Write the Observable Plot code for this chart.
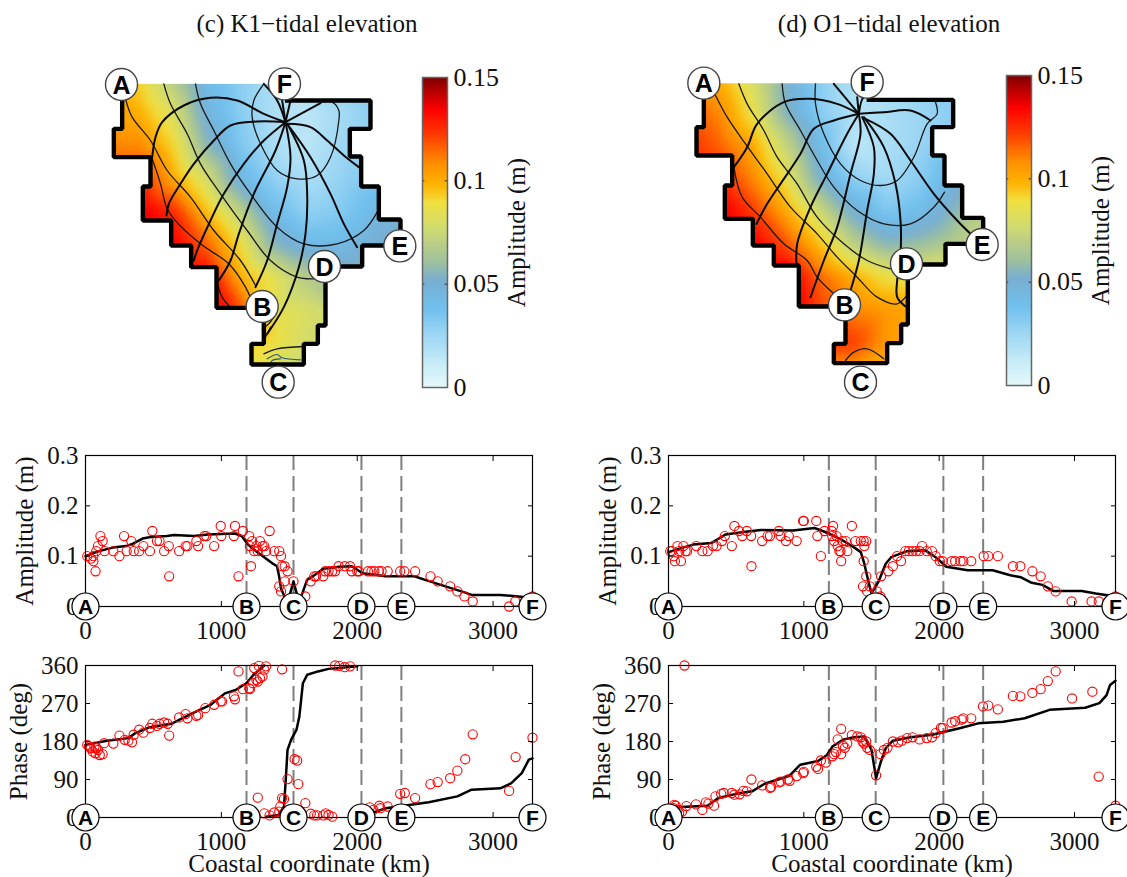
<!DOCTYPE html>
<html><head><meta charset="utf-8">
<script src="https://cdn.jsdelivr.net/npm/d3@7"></script>
<script src="https://cdn.jsdelivr.net/npm/@observablehq/plot@0.6"></script>
<style>
html,body{margin:0;padding:0;background:#fff;overflow:hidden}
#page{position:relative;width:1127px;height:877px;overflow:hidden}
#page svg{position:absolute;overflow:visible;background:transparent}
.ttl{position:absolute;top:10px;font:25px "Liberation Serif",serif;color:#111;transform:translateX(-50%);white-space:nowrap}
</style></head><body><div id="page"></div>
<script>
// colour map
const colorDomain=[0,.011,.024,.038,.0515,.06,.071,.077,.089,.0985,.108,.121,.134,.142,.15];
const colorRange=["#e4f8fa","#c8ecf8","#a0d8f4","#70c0ee","#78aed0","#9cc0a0","#c0d080","#d0dc70","#f0e040","#ffb000","#ff9000","#ff4000","#ff0000","#c00000","#7a0000"];
const colorTicks=[0,.05,.1,.15];

// amplitude samples on the map grid
const gridX=[50,150,250,350,450,550,650,750,850,950];
const ampC={
 50:[.1,.09,.066,.04,.03,.02,.03,.03,.03,.04],
 150:[.105,.098,.08,.045,.03,.02,.015,.022,.03,.04],
 250:[.11,.108,.09,.055,.033,.02,.015,.024,.03,.04],
 350:[.12,.125,.1,.078,.043,.028,.02,.027,.034,.04],
 450:[.14,.138,.125,.095,.07,.04,.028,.032,.042,.05],
 550:[.14,.14,.135,.115,.088,.055,.042,.042,.05,.05],
 650:[.14,.14,.14,.135,.1,.085,.068,.055,.052,.05],
 750:[.14,.14,.14,.14,.12,.085,.08,.075,.06,.05],
 850:[.12,.12,.12,.12,.09,.088,.078,.075,.07,.05],
 950:[.1,.1,.1,.1,.09,.08,.07,.07,.07,.05]};
const ampD={
 50:[.12,.098,.078,.05,.03,.02,.025,.03,.03,.04],
 150:[.118,.108,.085,.052,.03,.018,.02,.025,.03,.04],
 250:[.125,.115,.1,.072,.04,.015,.02,.026,.032,.04],
 350:[.13,.125,.108,.085,.05,.028,.022,.03,.045,.06],
 450:[.14,.138,.122,.1,.075,.048,.033,.04,.055,.07],
 550:[.14,.14,.135,.118,.095,.07,.055,.06,.068,.07],
 650:[.145,.145,.145,.14,.115,.1,.088,.085,.075,.07],
 750:[.145,.145,.145,.145,.12,.11,.105,.1,.09,.07],
 850:[.13,.13,.13,.13,.125,.122,.105,.1,.09,.07],
 950:[.1,.1,.1,.1,.1,.1,.1,.1,.09,.07]};

// coastlines
const coastC=[[95,70],[95,205],[70,205],[70,290],[180,290],[180,378],[157,378],[157,480],[242,480],[242,555],[302,555],[302,620],[378,620],[378,742],[520,742],[520,850],[483,850],[483,912],[640,912],[640,850],[682,850],[682,795],[705,795],[705,618],[815,618],[815,555],[930,555],[930,477],[865,477],[865,378],[812,378],[812,288],[778,288],[778,205],[840,205],[840,120],[590,120]];
const coastD=[[100,68],[100,200],[78,200],[78,285],[185,285],[185,375],[163,375],[163,475],[247,475],[247,555],[310,555],[310,615],[385,615],[385,738],[525,738],[525,850],[490,850],[490,908],[650,908],[650,848],[692,848],[692,792],[712,792],[712,612],[825,612],[825,550],[938,550],[938,472],[875,472],[875,375],[822,375],[822,285],[785,285],[785,200],[848,200],[848,118],[595,118]];
const topC=[[590,70]], topD=[[595,68]];

// contour lines on the maps
const thinC=[
 [[105,115],[125,170],[180,240],[230,330],[300,410],[370,510],[450,600],[495,675]],
 [[185,295],[210,370],[228,440],[250,475],[330,550],[415,610],[465,680],[480,712]],
 [[380,665],[395,710],[415,735]],
 [[220,70],[240,130],[290,220],[330,310],[390,400],[470,510],[540,600],[620,650],[670,655]],
 [[315,70],[330,130],[370,210],[420,310],[480,400],[560,500],[640,550],[740,550],[820,510],[860,455]],
 [[520,70],[490,120],[485,170],[510,250],[560,330],[620,355],[680,345],[720,290],[745,180],[745,150],[725,125],[690,125]],
 [[520,880],[560,865],[640,858]],
 [[515,805],[535,790],[550,770]],
 [[525,830],[540,800]]];
const blueC=[[[530,895],[560,882],[575,892],[630,898]],[[535,918],[545,900],[570,895]]];
const thickC=[
 [[585,185],[520,160],[440,120],[360,112],[280,135],[215,185],[195,230],[185,290]],
 [[585,185],[500,183],[420,195],[370,240],[310,310],[270,370],[235,430],[228,465]],
 [[585,185],[520,240],[460,310],[400,400],[360,480],[320,570],[310,600]],
 [[585,185],[555,270],[490,400],[445,520],[420,600],[385,660]],
 [[585,185],[600,290],[590,380],[560,490],[530,600],[495,680]],
 [[590,190],[640,300],[650,400],[645,520],[625,620],[580,740],[530,820]],
 [[590,190],[660,290],[720,400],[760,490],[800,560]],
 [[590,190],[660,200],[710,240],[760,285],[805,320]],
 [[585,185],[690,128]],[[585,185],[600,120]],[[585,185],[560,120],[520,70]],[[585,185],[575,120]]];
const thinD=[
 [[135,105],[170,170],[225,250],[290,340],[360,440],[440,520],[500,590],[560,650],[620,710],[680,730],[712,700]],
 [[190,320],[215,410],[270,470],[340,550],[410,600],[440,650],[490,700]],
 [[205,70],[230,130],[280,210],[320,290],[380,370],[440,470],[520,550],[590,600],[660,625]],
 [[335,70],[345,130],[390,210],[440,300],[490,380],[560,450],[640,490],[720,490],[790,440],[822,395]],
 [[435,70],[435,130],[460,220],[510,310],[570,360],[630,375],[680,360],[730,290],[770,190],[800,160],[795,125]],
 [[525,900],[550,875],[590,865],[640,895]]];
const thickD=[
 [[565,160],[500,130],[420,115],[340,125],[260,190],[230,260],[190,320]],
 [[565,160],[490,180],[430,205],[390,280],[330,370],[290,430],[258,490]],
 [[565,160],[530,220],[470,340],[420,440],[380,550],[378,610]],
 [[565,160],[570,220],[540,340],[500,500],[460,600],[420,710]],
 [[575,170],[610,260],[610,340],[590,450],[565,600],[540,690]],
 [[580,170],[640,260],[675,370],[690,480],[690,580],[680,660],[680,710],[705,738]],
 [[585,175],[660,220],[720,300],[790,400],[860,480],[900,520]],
 [[565,160],[640,155],[720,150],[780,180]],
 [[565,160],[580,110],[605,120]],[[565,160],[490,70]],[[565,160],[560,110]]];

// labels on the maps
const mapLabels=["A","B","C","D","E","F"];
const labelMapC=[[93,72],[515,738],[563,965],[702,618],[928,556],[582,70]];
const labelMapD=[[100,68],[522,733],[570,965],[708,610],[935,552],[590,65]];

// coastal sections
const sectionKm=[0,1185,1531,2031,2325,3290];
const dashKm=[1185,1531,2031,2325];
const kmTicks=[0,1000,2000,3000], ampTicks=[0,.1,.2,.3], phaseTicks=[0,90,180,270,360];

const ampLineC=[[0,.1],[50,.105],[100,.11],[200,.117],[300,.12],[350,.125],[420,.135],[480,.138],[600,.14],[650,.142],[800,.14],[900,.143],[1000,.144],[1100,.145],[1150,.14],[1190,.125],[1230,.115],[1280,.105],[1330,.095],[1380,.085],[1410,.08],[1425,.06],[1440,.035],[1465,.02],[1500,.02],[1531,.05],[1560,.02],[1592,.023],[1631,.053],[1684,.062],[1750,.075],[1868,.079],[1960,.08],[2039,.066],[2210,.06],[2420,.06],[2500,.053],[2592,.045],[2684,.037],[2790,.028],[2842,.023],[3053,.023],[3184,.02],[3290,.017]];
const ampPtsC=[[13,.1],[40,.095],[58,.1],[58,.09],[74,.07],[92,.12],[79,.11],[110,.14],[126,.13],[140,.11],[205,.11],[250,.1],[284,.14],[303,.11],[337,.13],[355,.11],[395,.11],[426,.12],[474,.11],[492,.15],[526,.13],[545,.13],[579,.11],[613,.12],[616,.06],[689,.11],[737,.12],[750,.12],[816,.13],[829,.12],[874,.14],[889,.14],[947,.12],[995,.16],[1000,.14],[1092,.14],[1100,.16],[1126,.06],[1158,.15],[1205,.14],[1218,.08],[1210,.12],[1226,.13],[1242,.11],[1258,.12],[1268,.11],[1284,.13],[1303,.12],[1316,.12],[1329,.11],[1355,.15],[1389,.11],[1426,.11],[1439,.1],[1447,.08],[1466,.08],[1487,.07],[1426,.04],[1439,.03],[1466,.05],[1531,.05],[1618,.02],[1658,.05],[1684,.06],[1697,.06],[1750,.06],[1763,.07],[1789,.07],[1816,.07],[1837,.07],[1863,.08],[1908,.08],[1947,.08],[1960,.07],[2000,.07],[2013,.07],[2079,.07],[2105,.07],[2126,.07],[2158,.07],[2179,.07],[2224,.07],[2316,.07],[2347,.07],[2426,.07],[2539,.06],[2592,.05],[2684,.04],[2737,.03],[2789,.02],[2850,.01],[3118,0],[3163,.01],[3290,.02]];
const phaseLineC1=[[0,172],[158,182],[316,188],[368,200],[474,214],[632,222],[711,235],[789,247],[921,267],[1026,294],[1105,302],[1184,318],[1237,338],[1316,360]];
const phaseLineC2=[[1329,2],[1421,6],[1461,26],[1474,90],[1487,160],[1513,184],[1553,208],[1574,239],[1600,318],[1632,338],[1711,346],[1789,352],[1868,354],[2000,358]];
const phaseLineC3=[[2105,10],[2210,22],[2342,28],[2526,36],[2737,50],[2842,66],[3053,69],[3132,81],[3211,105],[3263,137],[3290,140]];
const phasePtsC=[[13,172],[39,164],[53,156],[74,152],[105,148],[126,150],[92,160],[66,168],[137,176],[26,168],[79,164],[205,175],[250,194],[289,184],[316,182],[342,178],[355,196],[395,208],[426,201],[474,212],[492,222],[526,217],[545,222],[579,225],[605,222],[616,194],[689,237],[737,245],[750,235],[816,241],[829,243],[882,259],[947,267],[995,275],[1005,275],[1092,287],[1100,280],[1126,346],[1158,304],[1205,306],[1210,304],[1232,318],[1242,354],[1258,326],[1268,322],[1276,359],[1284,330],[1303,334],[1316,350],[1329,358],[1268,47],[1316,10],[1355,5],[1389,12],[1426,14],[1434,26],[1447,46],[1461,44],[1447,351],[1487,91],[1539,138],[1558,135],[1566,79],[1618,34],[1658,9],[1684,5],[1705,5],[1750,5],[1768,10],[1789,6],[1816,2],[1837,360],[1868,359],[1908,356],[1947,358],[2092,24],[2118,18],[2163,28],[2171,22],[2224,26],[2316,56],[2350,58],[2426,46],[2539,79],[2592,84],[2684,93],[2737,111],[2795,138],[2850,197],[3118,63],[3166,143],[3290,189]];

const ampLineD=[[0,.108],[105,.117],[184,.123],[316,.126],[421,.143],[553,.148],[684,.152],[921,.151],[1079,.156],[1158,.148],[1263,.135],[1368,.118],[1421,.108],[1447,.085],[1474,.053],[1500,.026],[1553,.05],[1605,.085],[1645,.098],[1763,.11],[1895,.112],[1974,.098],[2053,.079],[2211,.072],[2395,.072],[2526,.062],[2605,.058],[2684,.047],[2763,.043],[2842,.031],[3053,.031],[3158,.026],[3303,.02]];
const ampPtsD=[[13,.11],[26,.11],[39,.1],[47,.09],[66,.12],[79,.11],[92,.09],[110,.12],[126,.11],[137,.11],[205,.12],[250,.11],[289,.11],[329,.12],[355,.12],[395,.13],[416,.14],[468,.12],[487,.16],[521,.15],[545,.14],[579,.15],[611,.14],[613,.08],[692,.13],[732,.14],[750,.14],[816,.15],[829,.14],[868,.13],[889,.14],[947,.13],[995,.17],[1000,.17],[1092,.17],[1100,.14],[1126,.1],[1153,.15],[1205,.15],[1216,.16],[1210,.14],[1224,.13],[1242,.14],[1250,.12],[1263,.11],[1271,.11],[1276,.09],[1284,.13],[1311,.13],[1321,.11],[1355,.16],[1382,.13],[1421,.13],[1442,.13],[1461,.13],[1447,.12],[1442,.09],[1461,.06],[1437,.04],[1468,.03],[1487,.04],[1539,.03],[1566,.02],[1571,.06],[1624,.07],[1658,.08],[1689,.1],[1718,.09],[1750,.11],[1776,.11],[1803,.11],[1829,.11],[1855,.11],[1874,.12],[1908,.11],[1947,.11],[1974,.1],[2005,.09],[2026,.09],[2092,.09],[2118,.09],[2158,.09],[2179,.09],[2237,.09],[2329,.1],[2363,.1],[2434,.1],[2545,.08],[2600,.08],[2689,.07],[2750,.06],[2803,.04],[2861,.03],[2979,.01],[3126,.01],[3179,.01],[3303,.02]];
const phaseLineD=[[0,22],[53,24],[289,28],[368,46],[500,56],[618,62],[711,80],[895,99],[974,125],[1105,134],[1171,148],[1211,168],[1289,184],[1368,190],[1447,192],[1500,160],[1534,93],[1566,129],[1605,164],[1658,182],[1789,190],[1947,196],[2158,212],[2289,223],[2474,227],[2632,235],[2816,255],[3079,260],[3184,271],[3237,290],[3263,314],[3303,324]];
const phasePtsD=[[13,15],[39,22],[53,28],[66,18],[79,10],[100,14],[42,30],[118,360],[132,27],[203,31],[250,18],[276,36],[295,33],[337,28],[347,50],[389,56],[408,58],[468,58],[487,54],[526,55],[553,63],[579,62],[613,90],[692,76],[750,70],[758,72],[816,83],[829,85],[882,90],[895,87],[947,98],[995,105],[1000,108],[1092,120],[1105,115],[1126,135],[1163,130],[1211,145],[1224,150],[1237,155],[1250,185],[1276,210],[1276,150],[1289,170],[1303,165],[1321,175],[1355,195],[1395,192],[1421,190],[1434,180],[1461,180],[1447,175],[1468,165],[1487,160],[1534,100],[1566,150],[1592,160],[1618,165],[1658,180],[1697,178],[1724,182],[1763,188],[1803,190],[1855,185],[1908,188],[1947,190],[1974,200],[2013,212],[2026,212],[2092,225],[2118,228],[2166,232],[2179,235],[2237,235],[2324,263],[2363,265],[2434,256],[2545,288],[2600,287],[2689,295],[2750,304],[2803,323],[2861,346],[2982,282],[3132,298],[3179,97],[3303,28]];

const SERIF='"Liberation Serif",serif', SANS='"Liberation Sans",sans-serif';
const page=document.getElementById("page");
function place(svg,l,t){svg.style.left=l+"px";svg.style.top=t+"px";page.appendChild(svg);}
function title(txt,cx){const d=document.createElement("div");d.className="ttl";d.textContent=txt;d.style.left=cx+"px";page.appendChild(d);}
const px=d=>d[0], py=d=>d[1];
const colorScale={type:"linear",domain:colorDomain,range:colorRange,clamp:true};
let clipN=0;

function map(left,top,amps,coast,topEdge,thin,thick,blue,labels){
 const samples=[];
 for(const [y,row] of Object.entries(amps)) row.forEach((a,i)=>samples.push({x:gridX[i],y:+y,a}));
 const poly=[...coast,...topEdge];
 const id="mapclip"+(clipN++);
 const marks=[
  Plot.raster(samples,{x:"x",y:"y",fill:"a",interpolate:"barycentric",pixelSize:1,blur:4,
   render(i,s,v,dim,ctx,next){
    const g=next(i,s,v,dim,ctx);
    const cp=document.createElementNS("http://www.w3.org/2000/svg","clipPath");cp.id=id;
    const pg=document.createElementNS("http://www.w3.org/2000/svg","polygon");
    pg.setAttribute("points",poly.map(p=>s.x(p[0])+","+s.y(p[1])).join(" "));
    cp.appendChild(pg);g.appendChild(cp);g.setAttribute("clip-path","url(#"+id+")");return g;}}),
  ...thin.map(l=>Plot.line(l,{x:px,y:py,curve:"catmull-rom",stroke:"#1a1a1a",strokeWidth:1.3})),
  ...blue.map(l=>Plot.line(l,{x:px,y:py,curve:"catmull-rom",stroke:"#2a5a7a",strokeWidth:1.1})),
  ...thick.map(l=>Plot.line(l,{x:px,y:py,curve:"catmull-rom",stroke:"#0a0a0a",strokeWidth:2})),
  Plot.line(coast,{x:px,y:py,stroke:"#000",strokeWidth:4.4,strokeLinejoin:"miter",strokeLinecap:"square"}),
  Plot.dot(labels,{x:px,y:py,r:16,fill:"#fff",stroke:"#444",strokeWidth:1.4}),
  Plot.text(labels,{x:px,y:py,text:(d,i)=>mapLabels[i],fill:"#000",fontFamily:SANS,fontWeight:"bold",fontSize:25,dy:1})
 ];
 place(Plot.plot({width:420,height:350,margin:0,
   x:{domain:[0,1260],axis:null},y:{domain:[1050,0],axis:null},color:colorScale,style:{background:"transparent",overflow:"visible"},marks}),left,top);
}

function colorbar(left,top){
 const lv=d3.range(0,.15,.0005);
 place(Plot.plot({width:100,height:330,marginTop:10,marginBottom:10,marginLeft:8,marginRight:67,
  x:{domain:[0,1],axis:null},y:{domain:[0,.15],axis:null},color:colorScale,
  style:{background:"transparent",overflow:"visible",fontFamily:SERIF,fontSize:"25px"},
  marks:[
   Plot.rect(lv,{x1:0,x2:1,y1:d=>d,y2:d=>d+.0005,fill:d=>d+.00025,shapeRendering:"crispEdges"}),
   Plot.ruleY([.05,.1],{x1:0,x2:.09,y:d=>d,stroke:"#222",strokeWidth:1}),
   Plot.ruleY([.05,.1],{x1:.91,x2:1,y:d=>d,stroke:"#222",strokeWidth:1}),
   Plot.frame({stroke:"#666",strokeWidth:1.5}),
   Plot.text(colorTicks,{x:1,y:d=>d,text:d=>d===0?"0":String(d),textAnchor:"start",dx:6,fill:"#111",fontSize:26}),
   Plot.text(["Amplitude (m)"],{frameAnchor:"right",rotate:-90,textAnchor:"middle",dx:69,fill:"#111",fontSize:25})
  ]}),left,top);
}

function section(left,top,frameLeft,frameW,domainMax,yDomain,yTicks,yFmt,yLabel,lines,pts,labelDx,xLabel){
 const h=xLabel?{height:227,marginBottom:60}:{height:216,marginBottom:50};
 const labelData=mapLabels.map((t,i)=>({t,x:i===5?domainMax:sectionKm[i]}));
 const marks=[
  Plot.ruleX(dashKm,{stroke:"#7f7f7f",strokeWidth:2,strokeDasharray:"15,6"}),
  ...lines.map(l=>Plot.line(l,{x:px,y:py,stroke:"#000",strokeWidth:2.5})),
  Plot.dot(pts,{x:px,y:py,r:4.6,stroke:"#f00",strokeWidth:1.1,fill:"none",clip:false}),
  Plot.frame({stroke:"#000",strokeWidth:1.2}),
  Plot.axisX({anchor:"bottom",ticks:kmTicks,tickSize:-5,tickPadding:20,label:null,tickFormat:d=>String(d),fontSize:25,fill:"#111"}),
  Plot.axisX({anchor:"top",ticks:kmTicks,tickSize:-5,label:null,tickFormat:()=>null}),
  Plot.axisY({anchor:"left",ticks:yTicks,tickSize:-5,tickPadding:12,label:null,tickFormat:yFmt,fontSize:25,fill:"#111"}),
  Plot.axisY({anchor:"right",ticks:yTicks,tickSize:-5,label:null,tickFormat:()=>null}),
  Plot.text([yLabel],{frameAnchor:"left",rotate:-90,textAnchor:"middle",dx:labelDx,fill:"#111",fontSize:25}),
  ...(xLabel?[Plot.text([xLabel],{frameAnchor:"bottom",dy:54,fill:"#111",fontSize:25})]:[]),
  Plot.dot(labelData,{x:"x",y:()=>yDomain[0],r:13.5,fill:"#fff",stroke:"#000",strokeWidth:1.2,clip:false}),
  Plot.text(labelData,{x:"x",y:()=>yDomain[0],text:"t",fill:"#000",fontFamily:SANS,fontWeight:"bold",fontSize:21,dy:1})
 ];
 place(Plot.plot({width:frameLeft+frameW+30,...h,marginLeft:frameLeft,marginRight:30,marginTop:15,
   x:{domain:[0,domainMax],axis:null},y:{domain:yDomain,axis:null},
   style:{background:"transparent",overflow:"visible",fontFamily:SERIF,fontSize:"25px"},marks}),left,top);
}

title("(c) K1\u2212tidal elevation",307);
title("(d) O1\u2212tidal elevation",889);
map(90,60,ampC,coastC,topC,thinC,thickC,blueC,labelMapC);
map(670,60,ampD,coastD,topD,thinD,thickD,[],labelMapD);
colorbar(414,67);
colorbar(998,65);
const fmtAmp=d=>d===0?"0":String(d), fmtPh=d=>String(d);
section(0,440,85,447,3290,[0,.3],ampTicks,fmtAmp,"Amplitude (m)",[ampLineC],ampPtsC,-61);
section(0,650,85,447,3290,[0,360],phaseTicks,fmtPh,"Phase (deg)",[phaseLineC1,phaseLineC2,phaseLineC3],phasePtsC,-67,"Coastal coordinate (km)");
section(565,440,103,447,3303,[0,.3],ampTicks,fmtAmp,"Amplitude (m)",[ampLineD],ampPtsD,-61);
section(565,650,103,447,3303,[0,360],phaseTicks,fmtPh,"Phase (deg)",[phaseLineD],phasePtsD,-67,"Coastal coordinate (km)");
</script></body></html>
